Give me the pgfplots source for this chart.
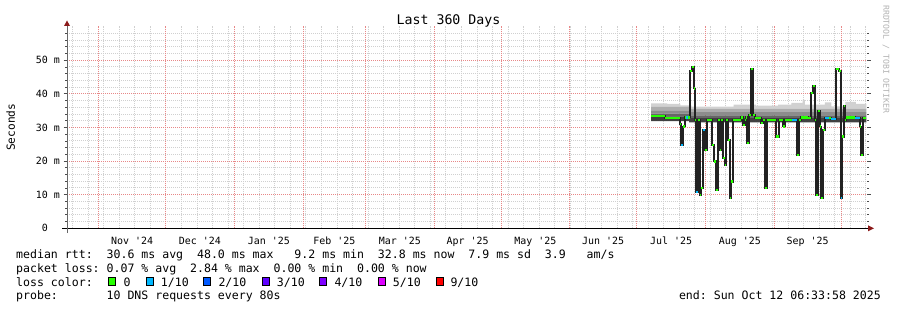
\documentclass[border=0pt]{standalone}
\usepackage{fontspec}
\setmonofont{DejaVu Sans Mono}
\renewcommand{\familydefault}{\ttdefault}
\usepackage{pgfplots}
\pgfplotsset{compat=1.18}
\usepgfplotslibrary{fillbetween}
\usepackage{pgfplotstable}
\definecolor{lc0}{HTML}{26FF00}
\definecolor{lc1}{HTML}{00B8FF}
\definecolor{lc2}{HTML}{0059FF}
\definecolor{lc3}{HTML}{5E00FF}
\definecolor{lc4}{HTML}{7E00FF}
\definecolor{lc5}{HTML}{DD00FF}
\definecolor{lc9}{HTML}{FF0000}
\definecolor{mgrid}{HTML}{E88888}
\definecolor{sgrid}{HTML}{D0D0D0}
\definecolor{arrowred}{HTML}{8B1A1A}
\definecolor{medline}{HTML}{222222}

% median rtt (ms) per interval: start day, value, width (days), loss class
\pgfplotstableread{
x y w c
262.9 33.3 6.2 0
269.1 32.9 6.75 0
275.85 31.0 0.55 0
276.4 24.9 0.8 1
277.2 30.3 0.77 0
277.97 33.0 0.73 0
278.7 33.0 0.75 1
279.45 33.0 1.05 0
280.5 46.8 0.6 0
281.1 48.0 0.9 0
282.0 41.6 0.5 0
282.5 32.3 0.7 0
283.2 10.9 0.75 1
283.95 32.3 0.75 0
284.7 9.9 0.7 0
285.4 11.9 0.8 0
286.2 29.3 0.8 1
287.0 23.4 1.0 0
288.0 32.3 2.4 0
290.4 24.9 0.75 0
291.15 19.9 0.75 0
291.9 11.4 1.05 0
292.95 32.3 0.75 0
293.7 23.4 0.7 0
294.4 32.3 0.8 0
295.2 20.9 0.8 0
296.0 18.9 0.7 0
296.7 32.3 0.75 0
297.45 26.3 0.75 0
298.2 8.9 0.7 0
298.9 13.9 0.8 0
299.7 32.3 3.7 0
303.4 33.0 0.8 0
304.2 30.8 0.77 0
304.97 32.3 0.73 0
305.7 33.0 0.4 0
306.1 25.4 0.8 0
306.9 33.8 0.8 0
307.7 47.3 1.0 0
308.7 33.8 0.8 0
309.5 32.8 2.7 0
312.2 31.3 1.0 0
313.2 32.3 0.8 0
314.0 11.9 1.0 0
315.0 32.3 4.2 0
319.2 27.3 1.1 0
320.3 32.3 1.9 0
322.2 30.3 0.8 0
323.0 32.3 3.25 0
326.25 32.3 2.25 1
328.5 21.9 0.9 0
329.4 32.3 1.0 0
330.4 33.0 3.05 0
333.45 32.8 1.45 0
334.9 40.3 0.8 0
335.7 42.3 0.8 0
336.5 32.3 0.7 0
337.2 9.9 0.75 0
337.95 34.8 0.75 0
338.7 30.3 0.7 0
339.4 8.9 0.8 0
340.2 29.3 0.8 0
341.0 32.8 1.9 1
342.9 32.8 0.9 0
343.8 32.6 2.4 1
346.2 47.3 1.1 0
347.3 46.8 0.9 0
348.2 8.9 0.7 1
348.9 27.3 0.75 0
349.65 36.3 0.55 0
350.2 32.3 0.5 0
350.7 33.0 3.9 0
354.6 32.8 2.1 1
356.7 30.3 0.7 0
357.4 21.9 0.8 0
358.2 32.8 1.5 0
359.7 32.8 0 0
}\median

\begin{document}
\begin{tikzpicture}[x=1bp,y=1bp]
\path (0,0) rectangle (897,310);
\begin{axis}[
  at={(67bp,81.7bp)}, anchor=south west,
  scale only axis, width=800bp, height=202.3bp,
  xmin=0, xmax=360, ymin=0, ymax=60.2,
  axis line style={draw=none},
  tick align=outside,
  major tick length=3.5bp, minor tick length=2bp,
  xtick={29.3,59.8,90.8,120.3,149.8,180.3,210.8,241.3,271.8,302.8,333.3},
  xticklabels={Nov '24,Dec '24,Jan '25,Feb '25,Mar '25,Apr '25,May '25,Jun '25,Jul '25,Aug '25,Sep '25},
  xtick style={draw=none},
  extra x ticks={14.3,44.3,75.3,106.3,134.3,165.3,195.3,226.3,256.3,287.3,318.3,348.3},
  extra x tick labels={},
  extra x tick style={grid=major, major grid style={mgrid, line width=1bp, dash pattern=on 1bp off 1bp}, tick style={draw=mgrid, line width=1bp}},
  minor xtick={2.5,9.5,...,359.5},
  xminorgrids=true,
  ytick={0,10,20,30,40,50},
  yticklabels={0\hphantom{~m},10 m,20 m,30 m,40 m,50 m},
  minor ytick={2,4,6,8,12,14,16,18,22,24,26,28,32,34,36,38,42,44,46,48,52,54,56,58},
  ymajorgrids=true, yminorgrids=true,
  ytick style={draw=black!70, line width=0.8bp},
  minor tick style={draw=black!30, line width=0.8bp},
  major grid style={mgrid, line width=1bp, dash pattern=on 1bp off 1bp},
  minor grid style={sgrid, line width=1bp, dash pattern=on 1bp off 1bp},
  tick label style={font=\fontsize{10}{12}\selectfont},
  yticklabel style={anchor=east, inner sep=0pt, xshift=-3.5bp},
  xticklabel style={anchor=base, inner sep=0pt, yshift=-12.7bp},
]
% smoke boundaries
\addplot[name path=T, draw=none, const plot] coordinates {(262.9,37.2) (270,37.0) (276,36.6) (281,36.2) (300,36.8) (310,36.5) (320,36.8) (326,37.3) (331,38.2) (332,36.8) (341,37.5) (344,36.3) (350.3,37.6) (355,37.0) (359.7,37.0)};
\addplot[name path=B4, draw=none, const plot] coordinates {(262.9,36.1) (280,35.6) (359.7,35.6)};
\addplot[name path=B3, draw=none, const plot] coordinates {(262.9,35.1) (280,34.6) (359.7,34.6)};
\addplot[name path=B2, draw=none, const plot] coordinates {(262.9,34.1) (280,33.6) (359.7,33.6)};
\addplot[name path=B1, draw=none, const plot] coordinates {(262.9,33.3) (280,32.8) (359.7,32.8)};
\addplot[name path=B0, draw=none, const plot] coordinates {(262.9,31.9) (280,31.5) (359.7,31.5)};
\addplot[black!18] fill between[of=T and B4];
\addplot[black!32] fill between[of=B4 and B3];
\addplot[black!45] fill between[of=B3 and B2];
\addplot[black!60] fill between[of=B2 and B1];
\addplot[black!75] fill between[of=B1 and B0];
% median line
\addplot[medline, line width=1.9bp, const plot] table[x=x, y=y] {\median};
\addplot[lc0, line width=2.2bp, quiver={u=\thisrow{w}, v=0}, restrict expr to domain={\thisrow{c}}{-0.5:0.5}] table[x=x, y=y] {\median};
\addplot[lc1, line width=2.2bp, quiver={u=\thisrow{w}, v=0}, restrict expr to domain={\thisrow{c}}{0.5:1.5}] table[x=x, y=y] {\median};
\end{axis}
% axis lines with arrows
\draw[black, line width=1bp] (62,81.7) -- (869,81.7);
\fill[arrowred] (868,78.7) -- (874,81.7) -- (868,84.7) -- cycle;
\draw[black!60, line width=1bp] (67,77) -- (67,285);
\fill[arrowred] (64,284) -- (67,289.5) -- (70,284) -- cycle;
% title and labels
\node[anchor=base, inner sep=0pt, font=\fontsize{13.3}{16}\selectfont] at (448.5,286) {Last 360 Days};
\node[rotate=90, inner sep=0pt, font=\fontsize{11.2}{13}\selectfont] at (10.7,182.7) {Seconds};
\node[rotate=-90, anchor=west, inner sep=0pt, text=black!30, font=\fontsize{8.2}{10}\selectfont] at (886,305) {RRDTOOL / TOBI OETIKER};
% legend
\begin{scope}[every node/.style={anchor=base west, inner sep=0pt, font=\fontsize{11.6}{14}\selectfont}]
\node at (16,51.7) {median~rtt:~~30.6~ms~avg~~48.0~ms~max~~~9.2~ms~min~~32.8~ms~now~~7.9~ms~sd~~3.9~~~am/s};
\node at (16,38) {packet~loss:~0.07~\%~avg~~2.84~\%~max~~0.00~\%~min~~0.00~\%~now};
\node at (16,24) {loss~color:};
\node at (123.3,24) {0};
\node at (160.7,24) {1/10};
\node at (218.3,24) {2/10};
\node at (276.7,24) {3/10};
\node at (334.3,24) {4/10};
\node at (392.7,24) {5/10};
\node at (450.3,24) {9/10};
\node at (16,10.3) {probe:~~~~~~~10~DNS~requests~every~80s};
\node[anchor=base east] at (881,10.3) {end:~Sun~Oct~12~06:33:58~2025};
\end{scope}
\begin{scope}[line width=0.8bp, draw=black]
\filldraw[fill=lc0] (108.6,24.3) rectangle (115.8,32.3);
\filldraw[fill=lc1] (146.0,24.3) rectangle (153.2,32.3);
\filldraw[fill=lc2] (203.6,24.3) rectangle (210.8,32.3);
\filldraw[fill=lc3] (262.0,24.3) rectangle (269.2,32.3);
\filldraw[fill=lc4] (319.6,24.3) rectangle (326.8,32.3);
\filldraw[fill=lc5] (378.0,24.3) rectangle (385.2,32.3);
\filldraw[fill=lc9] (436.0,24.3) rectangle (443.2,32.3);
\end{scope}
\end{tikzpicture}
\end{document}
